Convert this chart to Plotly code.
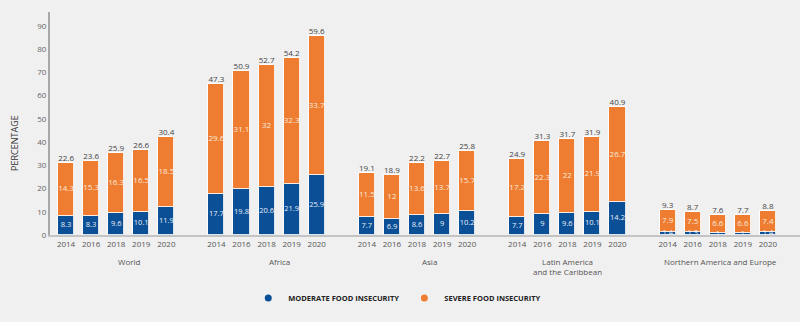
import plotly.graph_objects as go

groups = ["World", "Africa", "Asia", "Latin America<br>and the Caribbean", "Northern America and Europe"]
years = ["2014", "2016", "2018", "2019", "2020"]

moderate = [
    [8.3, 8.3, 9.6, 10.1, 11.9],
    [17.7, 19.8, 20.6, 21.9, 25.9],
    [7.7, 6.9, 8.6, 9, 10.2],
    [7.7, 9, 9.6, 10.1, 14.2],
    [1.4, 1.3, 1, 1, 1.4],
]
severe = [
    [14.3, 15.3, 16.3, 16.5, 18.5],
    [29.6, 31.1, 32, 32.3, 33.7],
    [11.5, 12, 13.6, 13.7, 15.7],
    [17.2, 22.3, 22, 21.9, 26.7],
    [7.9, 7.5, 6.6, 6.6, 7.4],
]
total = [
    [22.6, 23.6, 25.9, 26.6, 30.4],
    [47.3, 50.9, 52.7, 54.2, 59.6],
    [19.1, 18.9, 22.2, 22.7, 25.8],
    [24.9, 31.3, 31.7, 31.9, 40.9],
    [9.3, 8.7, 7.6, 7.7, 8.8],
]
y_ticks = [0, 10, 20, 30, 40, 50, 60, 70, 80, 90]

# layout helpers (positions, not data)
slot_gap = 1
label_offsets = [0.5, 0.5, 0.5, 0.0, 0.1]

BLUE = "#0b5096"
ORANGE = "#ee7d31"
FONT = "Open Sans"

xs, mods, sevs, tots, tick_text = [], [], [], [], []
for gi in range(len(groups)):
    for yi in range(len(years)):
        xs.append(gi * (len(years) + slot_gap) + yi)
        mods.append(moderate[gi][yi])
        sevs.append(severe[gi][yi])
        tots.append(total[gi][yi])
        tick_text.append(years[yi])

fmt = lambda v: f"{v:g}"
line = dict(color="rgba(255,255,255,0.85)", width=1)

fig = go.Figure()
fig.add_trace(go.Bar(x=xs, y=mods, width=0.64, marker=dict(color=BLUE, line=line),
                     showlegend=False, hoverinfo="skip"))
fig.add_trace(go.Bar(x=xs, y=tots, width=0.64, marker=dict(color=ORANGE, line=line),
                     showlegend=False, hoverinfo="skip"))
# segment labels
fig.add_trace(go.Scatter(
    x=xs, y=[m / 2 for m in mods], mode="text", text=[fmt(v) for v in mods],
    textposition="middle center", textfont=dict(family=FONT, size=7.5, color="#e9eef7"),
    showlegend=False, hoverinfo="skip", cliponaxis=False))
fig.add_trace(go.Scatter(
    x=xs, y=[m + t / 2 for m, t in zip(mods, tots)], mode="text", text=[fmt(v) for v in sevs],
    textposition="middle center", textfont=dict(family=FONT, size=8, color="#fbeadc"),
    showlegend=False, hoverinfo="skip", cliponaxis=False))
fig.add_trace(go.Scatter(
    x=xs, y=[m + t for m, t in zip(mods, tots)], mode="text",
    text=[fmt(v) for v in tots], textposition="top center",
    textfont=dict(family=FONT, size=8, color="#444444"),
    showlegend=False, hoverinfo="skip", cliponaxis=False))
# legend entries
fig.add_trace(go.Scatter(x=[None], y=[None], mode="markers", name="MODERATE FOOD INSECURITY",
                         marker=dict(color=BLUE, size=7, symbol="circle")))
fig.add_trace(go.Scatter(x=[None], y=[None], mode="markers", name="SEVERE FOOD INSECURITY",
                         marker=dict(color=ORANGE, size=7, symbol="circle")))

n = len(years)
for gi, g in enumerate(groups):
    cx = gi * (n + slot_gap) + (n - 1) / 2 + label_offsets[gi]
    fig.add_annotation(x=cx, y=0, xref="x", yref="y", text=g, showarrow=False,
                       yshift=-19, yanchor="top", align="center",
                       font=dict(family=FONT, size=8, color="#555555"))

# y-axis title placed as annotation to match vertical position
fig.add_annotation(x=0, y=0.413, xref="paper", yref="paper", text="PERCENTAGE", showarrow=False,
                   textangle=-90, xshift=-35, xanchor="center", yanchor="middle",
                   font=dict(family=FONT, size=9, color="#333333"))

fig.update_layout(
    width=800, height=322,
    margin=dict(l=50, r=0, t=12, b=87),
    paper_bgcolor="#f0f0f0", plot_bgcolor="#f0f0f0",
    barmode="stack", bargap=0,
    font=dict(family=FONT, color="#555555"),
    legend=dict(orientation="h", traceorder="normal", x=0.463, xanchor="center", y=-0.283, yanchor="middle",
                font=dict(family=FONT, size=7.5, color="#222222", weight="bold"),
                itemwidth=30, bgcolor="rgba(0,0,0,0)"),
    xaxis=dict(range=[-0.64, 29.28], tickvals=xs, ticktext=tick_text, showgrid=False, zeroline=False,
               showline=True, linecolor="#c4c4c4", linewidth=2, ticks="",
               tickfont=dict(family=FONT, size=8, color="#555555"), fixedrange=True),
    yaxis=dict(range=[0, 96], tickvals=y_ticks, showgrid=False, zeroline=False,
               showline=True, linecolor="#a8a8a8", linewidth=2, ticks="",
               tickfont=dict(family=FONT, size=8, color="#666666")),
)

fig.write_html("out.html")
